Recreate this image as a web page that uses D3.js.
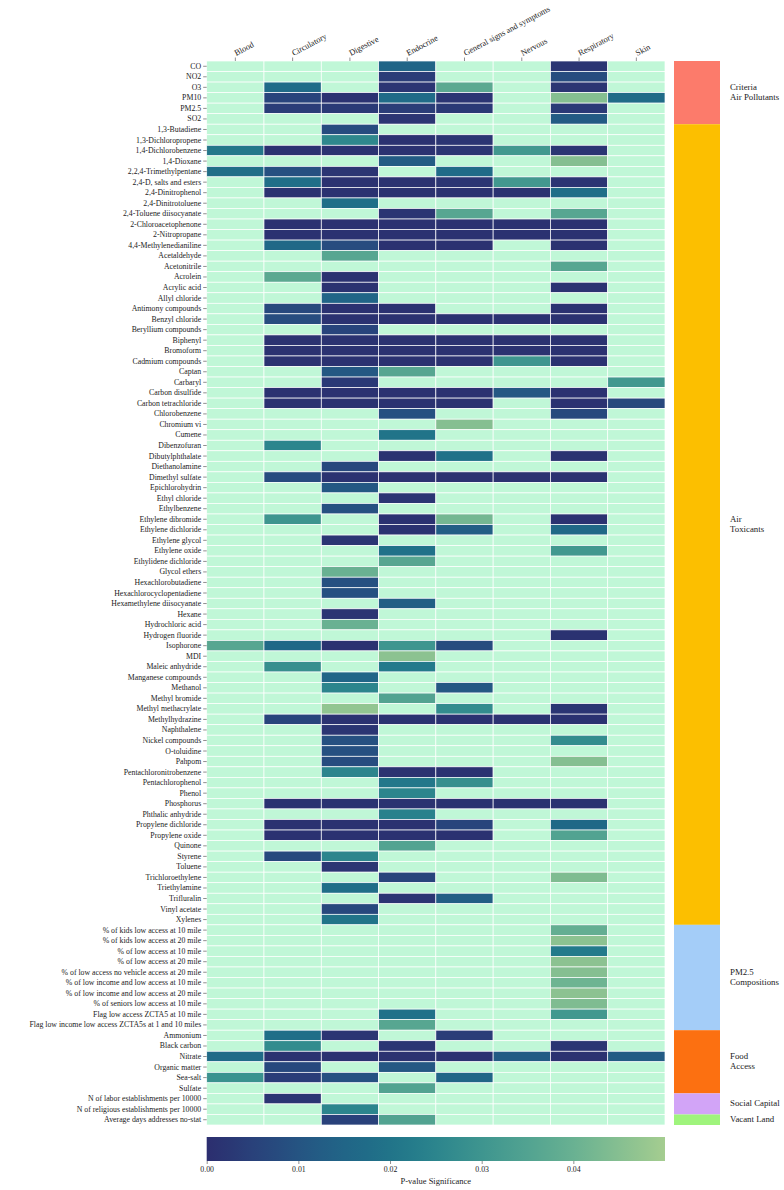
<!DOCTYPE html>
<html>
<head>
<meta charset="utf-8">
<script src="https://cdn.jsdelivr.net/npm/d3@7"></script>
<style>
  body { margin: 0; background: #fff; }
  text { font-family: "Liberation Serif", "DejaVu Serif", serif; fill: #222; }
</style>
</head>
<body>
<svg id="chart"></svg>
<script>
const n = null;

// columns
const diseases = ["Blood", "Circulatory", "Digestive", "Endocrine",
  "General signs and symptoms", "Nervous", "Respiratory", "Skin"];

// rows: [name, p-values per disease column]
const criteriaAirPollutants = [
  ["CO", [n, n, n, 0.015, n, n, 0.002, n]],
  ["NO2", [n, n, n, 0.004, n, n, 0.008, n]],
  ["O3", [n, 0.017, n, 0.002, 0.037, n, 0.002, n]],
  ["PM10", [n, 0.006, 0.001, 0.017, 0.002, n, 0.045, 0.017]],
  ["PM2.5", [n, 0.004, 0.003, 0.004, 0.003, n, 0.003, n]],
  ["SO2", [n, n, n, 0.002, n, n, 0.012, n]],
];

const airToxicants = [
  ["1,3-Butadiene", [n, n, 0.008, n, n, n, n, n]],
  ["1,3-Dichloropropene", [n, n, 0.026, 0.001, 0.002, n, n, n]],
  ["1,4-Dichlorobenzene", [0.021, 0.001, 0.001, 0.001, 0.002, 0.031, 0.002, n]],
  ["1,4-Dioxane", [n, n, n, 0.012, n, n, 0.045, n]],
  ["2,2,4-Trimethylpentane", [0.018, 0.009, 0.002, n, 0.017, n, n, n]],
  ["2,4-D, salts and esters", [n, 0.018, 0.001, 0.001, 0.002, 0.031, 0.002, n]],
  ["2,4-Dinitrophenol", [n, 0.001, 0.001, 0.001, 0.001, 0.001, 0.018, n]],
  ["2,4-Dinitrotoluene", [n, n, 0.018, n, n, n, n, n]],
  ["2,4-Toluene diisocyanate", [n, n, n, 0.002, 0.036, n, 0.036, n]],
  ["2-Chloroacetophenone", [n, 0.001, 0.001, 0.001, 0.001, 0.001, 0.001, n]],
  ["2-Nitropropane", [n, 0.001, 0.001, 0.001, 0.001, 0.001, 0.001, n]],
  ["4,4-Methylenedianiline", [n, 0.016, 0.008, 0.001, 0.001, n, 0.001, n]],
  ["Acetaldehyde", [n, n, 0.036, n, n, n, n, n]],
  ["Acetonitrile", [n, n, n, n, n, n, 0.036, n]],
  ["Acrolein", [n, 0.037, 0.001, n, n, n, n, n]],
  ["Acrylic acid", [n, n, 0.001, n, n, n, 0.001, n]],
  ["Allyl chloride", [n, n, 0.015, n, n, n, n, n]],
  ["Antimony compounds", [n, 0.007, 0.001, 0.001, n, n, 0.001, n]],
  ["Benzyl chloride", [n, 0.008, 0.001, 0.001, 0.001, 0.001, 0.001, n]],
  ["Beryllium compounds", [n, n, 0.006, n, n, n, n, n]],
  ["Biphenyl", [n, 0.001, 0.001, 0.001, 0.001, 0.001, 0.001, n]],
  ["Bromoform", [n, 0.001, 0.001, 0.001, 0.001, 0.001, 0.001, n]],
  ["Cadmium compounds", [n, 0.001, 0.001, 0.001, 0.001, 0.03, 0.001, n]],
  ["Captan", [n, n, 0.011, 0.036, n, n, n, n]],
  ["Carbaryl", [n, n, 0.003, n, n, n, n, 0.031]],
  ["Carbon disulfide", [n, 0.001, 0.001, 0.001, 0.001, 0.011, 0.001, n]],
  ["Carbon tetrachloride", [n, 0.001, 0.001, 0.001, 0.001, n, 0.001, 0.007]],
  ["Chlorobenzene", [n, n, n, 0.009, n, n, 0.007, n]],
  ["Chromium vi", [n, n, n, n, 0.045, n, n, n]],
  ["Cumene", [n, n, n, 0.02, n, n, n, n]],
  ["Dibenzofuran", [n, 0.025, n, n, n, n, n, n]],
  ["Dibutylphthalate", [n, n, n, 0.001, 0.019, n, 0.001, n]],
  ["Diethanolamine", [n, n, 0.007, n, n, n, n, n]],
  ["Dimethyl sulfate", [n, 0.008, 0.001, 0.001, 0.001, 0.001, 0.001, n]],
  ["Epichlorohydrin", [n, n, 0.011, n, n, n, n, n]],
  ["Ethyl chloride", [n, n, n, 0.002, n, n, n, n]],
  ["Ethylbenzene", [n, n, 0.009, n, n, n, n, n]],
  ["Ethylene dibromide", [n, 0.03, n, 0.001, 0.042, n, 0.001, n]],
  ["Ethylene dichloride", [n, n, n, 0.001, 0.013, n, 0.016, n]],
  ["Ethylene glycol", [n, n, 0.002, n, n, n, n, n]],
  ["Ethylene oxide", [n, n, n, 0.019, n, n, 0.031, n]],
  ["Ethylidene dichloride", [n, n, n, 0.036, n, n, n, n]],
  ["Glycol ethers", [n, n, 0.04, n, n, n, n, n]],
  ["Hexachlorobutadiene", [n, n, 0.009, n, n, n, n, n]],
  ["Hexachlorocyclopentadiene", [n, n, 0.009, n, n, n, n, n]],
  ["Hexamethylene diisocyanate", [n, n, n, 0.013, n, n, n, n]],
  ["Hexane", [n, n, 0.002, n, n, n, n, n]],
  ["Hydrochloric acid", [n, n, 0.04, n, n, n, n, n]],
  ["Hydrogen fluoride", [n, n, n, n, n, n, 0.001, n]],
  ["Isophorone", [0.036, 0.016, 0.001, 0.03, 0.008, n, n, n]],
  ["MDI", [n, n, n, 0.046, n, n, n, n]],
  ["Maleic anhydride", [n, 0.028, n, 0.022, n, n, n, n]],
  ["Manganese compounds", [n, n, 0.015, n, n, n, n, n]],
  ["Methanol", [n, n, 0.025, n, 0.011, n, n, n]],
  ["Methyl bromide", [n, n, n, 0.035, n, n, n, n]],
  ["Methyl methacrylate", [n, n, 0.047, n, 0.027, n, 0.002, n]],
  ["Methylhydrazine", [n, 0.006, 0.001, 0.001, 0.001, 0.001, 0.001, n]],
  ["Naphthalene", [n, n, 0.002, n, n, n, n, n]],
  ["Nickel compounds", [n, n, 0.009, n, n, n, 0.027, n]],
  ["O-toluidine", [n, n, 0.009, n, n, n, n, n]],
  ["Pahpom", [n, n, 0.008, n, n, n, 0.045, n]],
  ["Pentachloronitrobenzene", [n, n, 0.025, 0.001, 0.001, n, n, n]],
  ["Pentachlorophenol", [n, n, n, 0.021, 0.028, n, n, n]],
  ["Phenol", [n, n, n, 0.025, n, n, n, n]],
  ["Phosphorus", [n, 0.001, 0.001, 0.001, 0.001, 0.001, 0.001, n]],
  ["Phthalic anhydride", [n, n, n, 0.024, n, n, n, n]],
  ["Propylene dichloride", [n, 0.001, 0.001, 0.001, 0.006, n, 0.016, n]],
  ["Propylene oxide", [n, 0.001, 0.001, 0.001, 0.001, n, 0.035, n]],
  ["Quinone", [n, n, n, 0.035, n, n, n, n]],
  ["Styrene", [n, 0.007, 0.025, n, n, n, n, n]],
  ["Toluene", [n, n, 0.002, n, n, n, n, n]],
  ["Trichloroethylene", [n, n, n, 0.006, n, n, 0.044, n]],
  ["Triethylamine", [n, n, 0.018, n, n, n, n, n]],
  ["Trifluralin", [n, n, n, 0.002, 0.013, n, n, n]],
  ["Vinyl acetate", [n, n, 0.007, n, n, n, n, n]],
  ["Xylenes", [n, n, 0.02, n, n, n, n, n]],
];

const foodAccessRows = [
  ["% of kids low access at 10 mile", [n, n, n, n, n, n, 0.039, n]],
  ["% of kids low access at 20 mile", [n, n, n, n, n, n, 0.046, n]],
  ["% of low access at 10 mile", [n, n, n, n, n, n, 0.022, n]],
  ["% of low access at 20 mile", [n, n, n, n, n, n, 0.046, n]],
  ["% of low access no vehicle access at 20 mile", [n, n, n, n, n, n, 0.045, n]],
  ["% of low income and low access at 10 mile", [n, n, n, n, n, n, 0.041, n]],
  ["% of low income and low access at 20 mile", [n, n, n, n, n, n, 0.046, n]],
  ["% of seniors low access at 10 mile", [n, n, n, n, n, n, 0.044, n]],
  ["Flag low access ZCTA5 at 10 mile", [n, n, n, 0.019, n, n, 0.031, n]],
  ["Flag low income low access ZCTA5s at 1 and 10 miles", [n, n, n, 0.036, n, n, n, n]],
];

const pm25Rows = [
  ["Ammonium", [n, 0.018, 0.002, n, 0.004, n, n, n]],
  ["Black carbon", [n, 0.027, n, 0.002, n, n, 0.002, n]],
  ["Nitrate", [0.017, 0.001, 0.001, 0.001, 0.001, 0.012, 0.001, 0.012]],
  ["Organic matter", [n, 0.007, n, 0.011, n, n, n, n]],
  ["Sea-salt", [0.029, 0.004, 0.009, n, 0.015, n, n, n]],
  ["Sulfate", [n, n, n, 0.035, n, n, n, n]],
];

const socialCapitalRows = [
  ["N of labor establishments per 10000", [n, 0.002, n, n, n, n, n, n]],
  ["N of religious establishments per 10000", [n, n, 0.025, n, n, n, n, n]],
];

const vacantLandRows = [
  ["Average days addresses no-stat", [n, n, 0.005, 0.035, n, n, n, n]],
];

// side bands, labelled as in the figure
const bands = [
  { label: ["Criteria", "Air Pollutants"], rows: criteriaAirPollutants, color: "#fc7b6b" },
  { label: ["Air", "Toxicants"], rows: airToxicants, color: "#fcbf00" },
  { label: ["PM2.5", "Compositions"], rows: foodAccessRows, color: "#a4cdf8" },
  { label: ["Food", "Access"], rows: pm25Rows, color: "#fc7011" },
  { label: ["Social Capital"], rows: socialCapitalRows, color: "#d2a4f7" },
  { label: ["Vacant Land"], rows: vacantLandRows, color: "#9ff47c" },
];

const colorbarTicks = [0, 0.01, 0.02, 0.03, 0.04];

// ---- layout
const width = 784, height = 1190;
const svg = d3.select("#chart").attr("width", width).attr("height", height);
const margin = { left: 206.7, right: 665, top: 61, bottom: 1125 };

const allRows = bands.flatMap((b) => b.rows);
const cells = [];
allRows.forEach(([name, vals]) => {
  vals.forEach((v, i) => cells.push({ row: name, col: diseases[i], p: v }));
});

const x = d3.scaleBand().domain(diseases).range([margin.left, margin.right]);
const y = d3.scaleBand().domain(allRows.map((d) => d[0])).range([margin.top, margin.bottom]);

const crest = ["#2c2e6f", "#29407a", "#255583", "#206587", "#1f7389",
  "#2b858d", "#3e968f", "#52a391", "#68b192", "#85bf91", "#a5cd90"];
const color = d3.scaleSequential(d3.interpolateRgbBasis(crest)).domain([0, 0.05]);
const nanColor = "#c0f7d7";

// cells
svg.append("g")
  .selectAll("rect")
  .data(cells)
  .join("rect")
  .attr("x", (d) => x(d.col))
  .attr("y", (d) => y(d.row))
  .attr("width", x.bandwidth())
  .attr("height", y.bandwidth())
  .attr("fill", (d) => (d.p == null ? nanColor : color(d.p)))
  .attr("stroke", "#fff")
  .attr("stroke-width", 0.7);

// row labels (left axis)
const yAxis = svg.append("g")
  .attr("transform", `translate(${margin.left},0)`)
  .call(d3.axisLeft(y).tickSize(3.5).tickPadding(2));
yAxis.select(".domain").remove();
yAxis.selectAll("line").attr("stroke", "#444").attr("stroke-width", 0.6);
yAxis.selectAll("text")
  .style("font-family", '"Liberation Serif", serif')
  .style("font-size", "7.8px")
  .style("fill", "#1a1a1a");

// column labels (top axis, rotated)
const xAxis = svg.append("g")
  .attr("transform", `translate(0,${margin.top})`)
  .call(d3.axisTop(x).tickSize(3.5).tickPadding(3));
xAxis.select(".domain").remove();
xAxis.selectAll("line").attr("stroke", "#444").attr("stroke-width", 0.6);
xAxis.selectAll("text")
  .style("font-family", '"Liberation Serif", serif')
  .style("font-size", "8.4px")
  .style("fill", "#1a1a1a")
  .attr("text-anchor", "start")
  .attr("transform", "translate(1,-5) rotate(-28)")
  .attr("x", 0)
  .attr("y", 0)
  .attr("dy", 0);

// side bands
const bandX = 674, bandW = 46;
bands.forEach((b) => {
  const y0 = y(b.rows[0][0]);
  const y1 = y(b.rows[b.rows.length - 1][0]) + y.bandwidth();
  svg.append("rect")
    .attr("x", bandX)
    .attr("y", y0)
    .attr("width", bandW)
    .attr("height", y1 - y0)
    .attr("fill", b.color);
  const mid = (y0 + y1) / 2;
  const lh = 10;
  const t = svg.append("text")
    .attr("x", bandX + bandW + 10)
    .attr("y", mid - ((b.label.length - 1) * lh) / 2)
    .attr("dominant-baseline", "middle")
    .style("font-size", "8.8px");
  b.label.forEach((s, i) => {
    t.append("tspan")
      .attr("x", bandX + bandW + 10)
      .attr("dy", i === 0 ? 0 : lh)
      .text(s);
  });
});

// colorbar
const cbTop = 1137, cbH = 24;
const cbScale = d3.scaleLinear().domain([0, 0.05]).range([margin.left, margin.right]);
const defs = svg.append("defs");
const grad = defs.append("linearGradient").attr("id", "cbgrad");
d3.range(0, 1.0001, 0.05).forEach((t) => {
  grad.append("stop")
    .attr("offset", `${t * 100}%`)
    .attr("stop-color", color(t * 0.05));
});
svg.append("rect")
  .attr("x", margin.left)
  .attr("y", cbTop)
  .attr("width", margin.right - margin.left)
  .attr("height", cbH)
  .attr("fill", "url(#cbgrad)");

const cbAxis = svg.append("g")
  .attr("transform", `translate(0,${cbTop + cbH})`)
  .call(d3.axisBottom(cbScale).tickValues(colorbarTicks).tickFormat(d3.format(".2f")).tickSize(3).tickPadding(2));
cbAxis.select(".domain").remove();
cbAxis.selectAll("line").attr("stroke", "#444").attr("stroke-width", 0.6);
cbAxis.selectAll("text")
  .style("font-family", '"Liberation Serif", serif')
  .style("font-size", "7.8px")
  .style("fill", "#1a1a1a");

svg.append("text")
  .attr("x", (margin.left + margin.right) / 2)
  .attr("y", 1184)
  .attr("text-anchor", "middle")
  .style("font-size", "8.5px")
  .text("P-value Significance");
</script>
</body>
</html>
